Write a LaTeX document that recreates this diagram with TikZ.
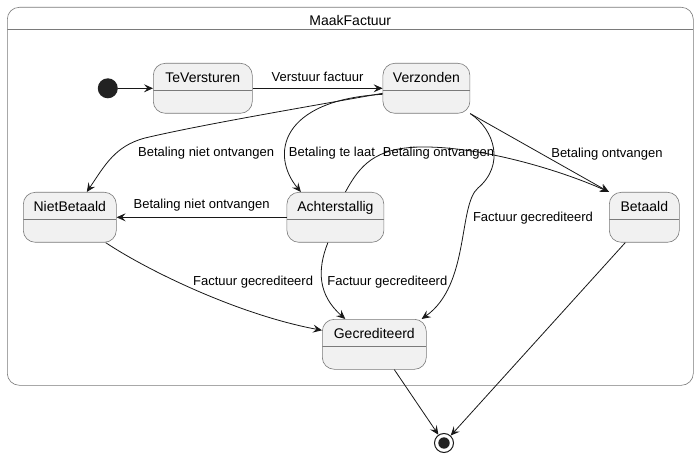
\documentclass[tikz,border=0pt]{standalone}
\usepackage{fontspec}
\setmainfont{Liberation Sans}
\usepackage{xcolor}
\usepackage{tikz}
\usetikzlibrary{positioning,arrows.meta}

\definecolor{linecol}{HTML}{181818}
\definecolor{boxline}{HTML}{7A7A7A}
\definecolor{statefill}{HTML}{F1F1F1}
\definecolor{dotfill}{HTML}{222222}

\tikzset{
	statebox/.style={draw=boxline, line width=0.6pt, fill=statefill, rounded corners=12pt,
		font=\fontsize{14}{16}\selectfont, text height=12pt, text depth=24pt, inner ysep=7pt, inner xsep=0pt,
		path picture={\draw[boxline, line width=0.6pt] ([yshift=-27pt]path picture bounding box.north west) -- ([yshift=-27pt]path picture bounding box.north east);}},
	framebox/.style={draw=boxline, line width=0.6pt, fill=white, rounded corners=12pt, inner sep=0pt,
		path picture={\draw[boxline, line width=0.6pt] ([yshift=-22pt]path picture bounding box.north west) -- ([yshift=-22pt]path picture bounding box.north east);}},
	initstate/.style={circle, fill=dotfill, minimum size=20pt, inner sep=0pt},
	finalstate/.style={circle, draw=linecol, line width=1pt, fill=white, minimum size=19pt, inner sep=0pt,
		path picture={\fill[dotfill] (path picture bounding box.center) circle (5.7pt);}},
	trans/.style={->, linecol, line width=0.8pt},
	lbl/.style={font=\fontsize{13}{15}\selectfont, text=black, inner sep=3pt}
}

\begin{document}
\begin{tikzpicture}[x=1pt, y=-1pt, >={Stealth[length=9pt, width=8pt, inset=3.5pt]}]
	\useasboundingbox (0,0) rectangle (699,457);
	\node[framebox, minimum width=686pt, minimum height=378pt, anchor=north west] (maakfactuur) at (7,7) {};
	\node[anchor=base, font=\fontsize{14}{16}\selectfont] (title) at ([yshift=-19pt]maakfactuur.north) {MaakFactuur};

	\node[statebox, minimum width=99pt, anchor=north west] (teversturen) at (153,63) {TeVersturen};
	\node[initstate, left=35pt of teversturen] (init) {};
	\node[statebox, minimum width=87pt, right=130pt of teversturen] (verzonden) {Verzonden};
	\node[statebox, minimum width=93pt, anchor=north west] (nietbetaald) at (23,192) {NietBetaald};
	\node[statebox, minimum width=97pt, right=170pt of nietbetaald] (achterstallig) {Achterstallig};
	\node[statebox, minimum width=70pt, anchor=north west] (betaald) at (609,192) {Betaald};
	\node[statebox, minimum width=104pt, anchor=north west] (gecrediteerd) at (322,319) {Gecrediteerd};
	\node[finalstate] (final) at (444,443) {};

	\path[trans] (init) edge (teversturen);
	\path[trans] (teversturen) edge node[lbl, above=3pt] {Verstuur factuur} (verzonden);
	\draw[trans] ([yshift=-5pt]verzonden.west) .. controls (300,108) and (200,125) .. (145,138)
		.. controls (115,146) and (105,165) .. ([xshift=17pt]nietbetaald.north)
		node[lbl, pos=0.4, anchor=base west, xshift=18pt, yshift=-4pt] {Betaling niet ontvangen};
	\draw[trans] ([yshift=-6pt]verzonden.west) .. controls (280,100) and (270,155) .. ([xshift=-34.5pt]achterstallig.north)
		node[lbl, pos=0.7, anchor=base west, yshift=-1pt] {Betaling te laat};
	\path[trans] (verzonden.330) edge node[lbl, pos=0.56, anchor=base west] {Betaling ontvangen} (betaald.north west);
	\draw[trans] (verzonden.330) .. controls (495,130) and (505,165) .. (478,188)
		.. controls (458,205) and (470,285) .. ([xshift=-5pt]gecrediteerd.north east)
		node[lbl, pos=0.3, anchor=base west, xshift=3.5pt, yshift=-4.3pt] {Factuur gecrediteerd};
	\draw[trans] ([xshift=10pt]achterstallig.north) .. controls (360,165) and (375,148) .. (420,147)
		.. controls (480,146) and (560,170) .. (betaald.north west)
		node[lbl, pos=0.1, anchor=base, yshift=-9pt] {Betaling ontvangen};
	\path[trans] (achterstallig) edge node[lbl, above=3pt] {Betaling niet ontvangen} (nietbetaald);
	\draw[trans] ([xshift=-11pt]nietbetaald.south east) .. controls (150,272) and (240,315) .. ([yshift=14pt]gecrediteerd.west)
		node[lbl, pos=0.5, anchor=base west, xshift=-10pt, yshift=6.6pt] {Factuur gecrediteerd};
	\draw[trans] ([xshift=-7.5pt]achterstallig.south) .. controls (317,270) and (318,295) .. ([xshift=-29pt]gecrediteerd.north)
		node[lbl, pos=0.5, anchor=base west, xshift=1.7pt, yshift=-3pt] {Factuur gecrediteerd};
	\path[trans] ([xshift=20pt]gecrediteerd.south) edge (final);
	\path[trans] ([xshift=-19pt]betaald.south) edge (final);
\end{tikzpicture}
\end{document}
